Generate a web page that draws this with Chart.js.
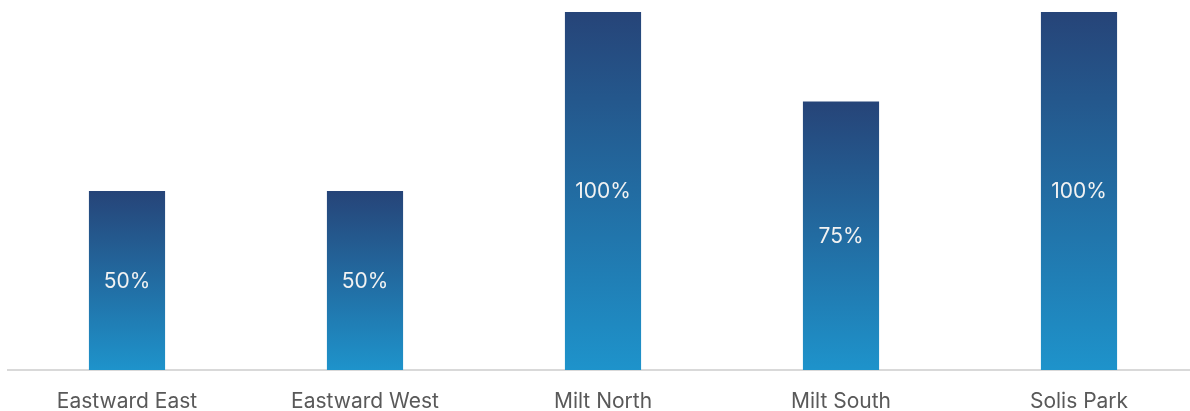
<!DOCTYPE html>
<html>
<head>
<meta charset="utf-8">
<script src="https://cdn.jsdelivr.net/npm/chart.js@4"></script>
<style>
  html, body { margin: 0; padding: 0; background: #ffffff; overflow: hidden; }
  #wrap { position: relative; width: 1198px; height: 411px; }
</style>
</head>
<body>
<div id="wrap"><canvas id="barChart"></canvas></div>
<script>
// Share of sites per area (percent)
const sites = ['Eastward East', 'Eastward West', 'Milt North', 'Milt South', 'Solis Park'];
const shares = [50, 50, 100, 75, 100];

const topColor = '#264478';
const bottomColor = '#1e93cb';
const fontFamily = 'Inter, "Open Sans", sans-serif';

// Vertical gradient spanning each bar from its top down to the baseline
function barGradient(context) {
  const chart = context.chart;
  const yScale = chart.scales.y;
  if (!yScale || context.raw === undefined) return bottomColor;
  const top = yScale.getPixelForValue(context.raw);
  const base = yScale.getPixelForValue(0);
  if (!isFinite(top) || !isFinite(base) || top === base) return bottomColor;
  const g = chart.ctx.createLinearGradient(0, top, 0, base);
  g.addColorStop(0, topColor);
  g.addColorStop(1, bottomColor);
  return g;
}

// Percent label in the middle of every bar
const midLabels = {
  id: 'midLabels',
  afterDatasetsDraw(chart) {
    const ctx = chart.ctx;
    const meta = chart.getDatasetMeta(0);
    ctx.save();
    ctx.font = '21px ' + fontFamily;
    ctx.fillStyle = '#f2f2f2';
    ctx.textAlign = 'center';
    ctx.textBaseline = 'middle';
    meta.data.forEach((bar, i) => {
      ctx.fillText(shares[i] + '%', bar.x, (bar.y + bar.base) / 2 + 1);
    });
    ctx.restore();
  }
};

new Chart(document.getElementById('barChart').getContext('2d'), {
  type: 'bar',
  data: {
    labels: sites,
    datasets: [{
      label: 'Share',
      data: shares,
      backgroundColor: barGradient,
      borderWidth: 0,
      barPercentage: 1,
      categoryPercentage: 0.32
    }]
  },
  options: {
    responsive: true,
    maintainAspectRatio: false,
    animation: false,
    layout: { padding: { left: 8, right: 0, top: 12, bottom: 0 } },
    plugins: {
      legend: { display: false },
      tooltip: { enabled: false }
    },
    scales: {
      y: {
        display: false,
        min: 0,
        max: 100
      },
      x: {
        grid: { display: false },
        border: { display: true, color: '#d9d9d9', width: 2 },
        ticks: {
          color: '#595959',
          font: { family: fontFamily, size: 21 },
          padding: 11,
          maxRotation: 0
        },
        afterFit(scale) { scale.height = 41; }
      }
    }
  },
  plugins: [midLabels]
});
</script>
</body>
</html>
